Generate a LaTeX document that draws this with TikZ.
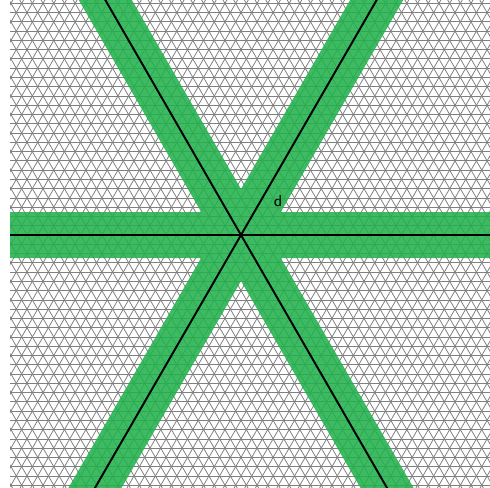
\documentclass[tikz,border=0pt]{standalone}
\usepackage{xcolor}
\usepackage{tikz}
\usetikzlibrary{calc}

\definecolor{bandgreen}{RGB}{34,177,76}

\begin{document}
\begin{tikzpicture}[
  x=0.02cm, y=-0.02cm,
  gridline/.style={draw=black!50, line width=0.45pt},
  band/.style={fill=bandgreen, fill opacity=0.88},
  axis/.style={draw=black, line width=1.1pt},
  lbl/.style={font=\sffamily\fontsize{9}{10}\selectfont, inner sep=0pt}
]
\useasboundingbox (0,0) rectangle (490,487);

\coordinate (centre) at (241,235);

\begin{scope}
\clip (10,0) rectangle (490,487);

% triangular grid
\foreach \k in {-26,...,28}
  \draw[gridline] (0,{235+\k*9.27}) -- (490,{235+\k*9.27});
\foreach \k in {-60,...,60} {
  \draw[gridline] ({241+\k*10.7},235) ++(240:400) -- ++(60:800);
  \draw[gridline] ({241+\k*10.7},235) ++(300:400) -- ++(120:800);
}

% green bands
\fill[band]
  (centre) ++(0:600) ++(90:23) -- ++(180:1200) -- ++(270:46) -- ++(0:1200) -- cycle
  (centre) ++(60:600) ++(150:23) -- ++(240:1200) -- ++(330:46) -- ++(60:1200) -- cycle
  (centre) ++(120:600) ++(210:23) -- ++(300:1200) -- ++(30:46) -- ++(120:1200) -- cycle;

% axes
\draw[axis] (centre) -- ++(0:400);
\draw[axis] (centre) -- ++(180:400);
\draw[axis] (centre) -- ++(60:400);
\draw[axis] (centre) -- ++(240:400);
\draw[axis] (centre) -- ++(120:400);
\draw[axis] (centre) -- ++(300:400);
\end{scope}

\node[lbl] (dlabel) at (278,201) {d};

\end{tikzpicture}
\end{document}
